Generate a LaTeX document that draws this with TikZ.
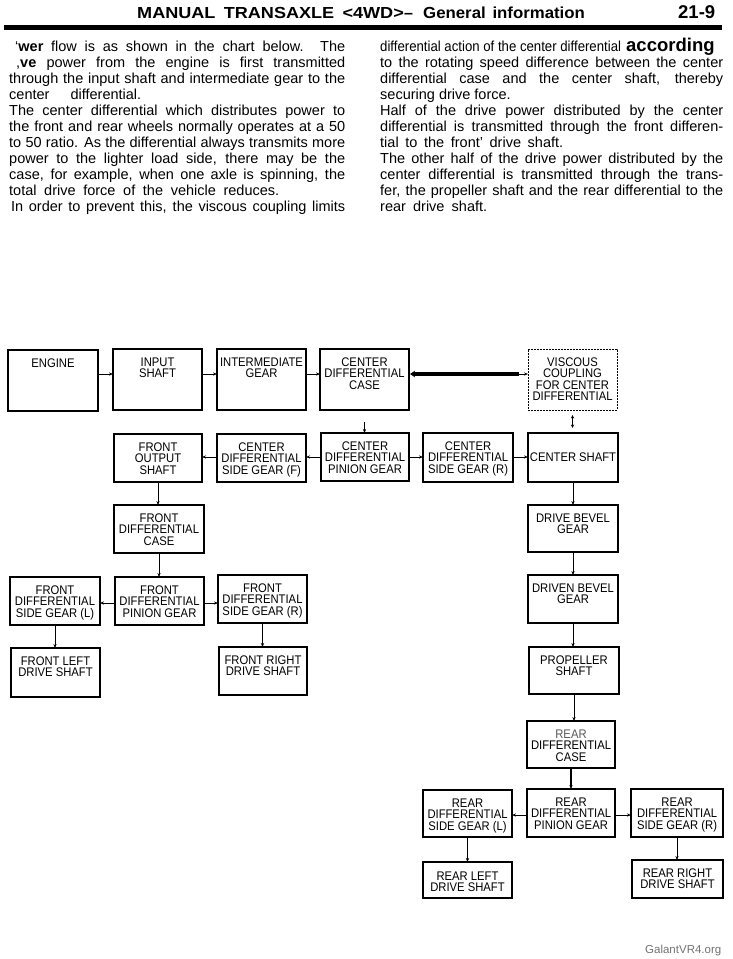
\documentclass[tikz,border=0pt]{standalone}
\usepackage{fontspec}
\setmainfont{Liberation Sans}
\newfontfamily\boxfont[FakeStretch=0.9]{Liberation Sans}
\usetikzlibrary{arrows.meta,calc}
\lineskiplimit=-5pt
\tikzset{
  bx/.style={draw, line width=1.2pt, anchor=north west, inner sep=0pt, outer sep=0pt},
  tx/.style={anchor=north, inner sep=0pt, yshift=-8.5pt, align=center,
     font=\boxfont\fontsize{12.5}{11.5}\selectfont},
  arr/.style={line width=0.8pt, -{Stealth[length=4pt,width=3.2pt]}},
  body/.style={anchor=base west, inner sep=0pt, font=\fontsize{14.5}{16}\selectfont},
  head/.style={anchor=base west, inner sep=0pt, font=\bfseries\fontsize{16}{18}\selectfont},
}
\begin{document}
\begin{tikzpicture}[x=1pt,y=-1pt]
\fill[white] (0,0) rectangle (732,959);
\useasboundingbox (0,0) rectangle (732,959);

% ---------- header ----------
\node[head] (h1) at (137,18) {\scalebox{1.13}[1]{\makebox[236pt][s]{MANUAL TRANSAXLE <4WD>}}};
\node[head] (h2) at (404,18) {–};
\node[head] (h3) at (423,18) {\scalebox{1.05}[1]{\makebox[154pt][s]{General information}}};
\node[head, font=\bfseries\fontsize{18.5}{20}\selectfont] (h4) at (678,18) {21-9};
\node[inner sep=0pt, outer sep=0pt, anchor=north west] (hrule) at (4,25) {\rule{718pt}{5pt}};

% ---------- left column ----------
\node[body] (l1) at (15,51.5) {\makebox[330pt][s]{‘\textbf{wer} flow is as shown in the chart below. The}};
\node[body] (l2) at (16,67.5) {\makebox[329pt][s]{,\textbf{ve} power from the engine is first transmitted}};
\node[body] (l3) at (9,83.5) {\makebox[336pt][s]{through the input shaft and intermediate gear to the}};
\node[body] (l4) at (9,99.5) {\makebox[132pt][s]{center differential.}};
\node[body] (l5) at (9,115.5) {\makebox[336pt][s]{The center differential which distributes power to}};
\node[body] (l6) at (9,131.5) {\makebox[336pt][s]{the front and rear wheels normally operates at a 50}};
\node[body] (l7) at (9,147.5) {\makebox[336pt][s]{to 50 ratio. As the differential always transmits more}};
\node[body] (l8) at (9,163.5) {\makebox[336pt][s]{power to the lighter load side, there may be the}};
\node[body] (l9) at (9,179.5) {\makebox[336pt][s]{case, for example, when one axle is spinning, the}};
\node[body] (l10) at (9,195.5) {\makebox[270pt][s]{total drive force of the vehicle reduces.}};
\node[body] (l11) at (11,211.5) {\makebox[334pt][s]{In order to prevent this, the viscous coupling limits}};

% ---------- right column ----------
\node[body] (r1t) at (380,51) {\scalebox{0.91}[1]{differential action of the center differential}};
\node[body, font=\bfseries\fontsize{18.5}{20}\selectfont] (r1b) at (626,51) {according};
\node[body] (r2t) at (380,67) {\makebox[343pt][s]{to the rotating speed difference between the center}};
\node[body] (r3t) at (380,83) {\makebox[343pt][s]{differential case and the center shaft, thereby}};
\node[body] (r4t) at (380,99) {securing drive force.};
\node[body] (r5t) at (380,115) {\makebox[343pt][s]{Half of the drive power distributed by the center}};
\node[body] (r6t) at (380,131) {\makebox[343pt][s]{differential is transmitted through the front differen-}};
\node[body] (r7t) at (380,147) {\makebox[183pt][s]{tial to the front' drive shaft.}};
\node[body] (r8t) at (380,163) {\makebox[343pt][s]{The other half of the drive power distributed by the}};
\node[body] (r9t) at (380,179) {\makebox[343pt][s]{center differential is transmitted through the trans-}};
\node[body] (r10t) at (380,195) {\makebox[343pt][s]{fer, the propeller shaft and the rear differential to the}};
\node[body] (r11t) at (380,211) {\makebox[107pt][s]{rear drive shaft.}};

% ---------- helper rows ----------
\coordinate (ra) at (0,374);
\coordinate (rb) at (0,457);
\coordinate (rc) at (0,603);
\coordinate (rd) at (0,815);
\coordinate (vj) at (519,374);

% ---------- boxes ----------
\node[bx, minimum width=90pt, minimum height=61pt] (engine) at (8,350) {};
\node[tx] (engine-t) at (engine.north) {ENGINE};
\node[bx, minimum width=89pt, minimum height=61pt] (input) at (113,349) {};
\node[tx] (input-t) at (input.north) {INPUT\\SHAFT};
\node[bx, minimum width=89pt, minimum height=61pt] (inter) at (217,349) {};
\node[tx] (inter-t) at (inter.north) {INTERMEDIATE\\GEAR};
\node[bx, minimum width=89pt, minimum height=61pt] (cdcase) at (320,349) {};
\node[tx] (cdcase-t) at (cdcase.north) {CENTER\\DIFFERENTIAL\\CASE};
\node[bx, minimum width=89pt, minimum height=61pt, dash pattern=on 1.6pt off 1.4pt, line width=0.9pt] (viscous) at (528,349) {};
\node[tx] (viscous-t) at (viscous.north) {VISCOUS\\COUPLING\\FOR CENTER\\DIFFERENTIAL};

\node[bx, minimum width=88pt, minimum height=48pt] (fos) at (114,434) {};
\node[tx] (fos-t) at (fos.north) {FRONT\\OUTPUT\\SHAFT};
\node[bx, minimum width=89pt, minimum height=48pt] (cdsf) at (217,434) {};
\node[tx] (cdsf-t) at (cdsf.north) {CENTER\\DIFFERENTIAL\\SIDE GEAR (F)};
\node[bx, minimum width=88pt, minimum height=48pt] (cdpg) at (321,433) {};
\node[tx] (cdpg-t) at (cdpg.north) {CENTER\\DIFFERENTIAL\\PINION GEAR};
\node[bx, minimum width=90pt, minimum height=49pt] (cdsr) at (423,433) {};
\node[tx] (cdsr-t) at (cdsr.north) {CENTER\\DIFFERENTIAL\\SIDE GEAR (R)};
\node[bx, minimum width=90pt, minimum height=49pt, font=\boxfont\fontsize{12.5}{11.5}\selectfont] (cshaft) at (528,433) {CENTER SHAFT};

\node[bx, minimum width=90pt, minimum height=48pt] (fdcase) at (114,505) {};
\node[tx] (fdcase-t) at (fdcase.north) {FRONT\\DIFFERENTIAL\\CASE};
\node[bx, minimum width=90pt, minimum height=48pt] (fdsl) at (10,577) {};
\node[tx] (fdsl-t) at (fdsl.north) {FRONT\\DIFFERENTIAL\\SIDE GEAR (L)};
\node[bx, minimum width=89pt, minimum height=48pt] (fdpg) at (115,577) {};
\node[tx] (fdpg-t) at (fdpg.north) {FRONT\\DIFFERENTIAL\\PINION GEAR};
\node[bx, minimum width=89pt, minimum height=48pt] (fdsr) at (218,575) {};
\node[tx] (fdsr-t) at (fdsr.north) {FRONT\\DIFFERENTIAL\\SIDE GEAR (R)};
\node[bx, minimum width=89pt, minimum height=49pt] (fld) at (11,648) {};
\node[tx] (fld-t) at (fld.north) {FRONT LEFT\\DRIVE SHAFT};
\node[bx, minimum width=88pt, minimum height=48pt] (frd) at (219,647) {};
\node[tx] (frd-t) at (frd.north) {FRONT RIGHT\\DRIVE SHAFT};

\node[bx, minimum width=90pt, minimum height=47pt] (dbg) at (528,505) {};
\node[tx] (dbg-t) at (dbg.north) {DRIVE BEVEL\\GEAR};
\node[bx, minimum width=90pt, minimum height=48pt] (dnbg) at (528,575) {};
\node[tx] (dnbg-t) at (dnbg.north) {DRIVEN BEVEL\\GEAR};
\node[bx, minimum width=90pt, minimum height=47pt] (prop) at (529,647) {};
\node[tx] (prop-t) at (prop.north) {PROPELLER\\SHAFT};
\node[bx, minimum width=88pt, minimum height=47pt, line width=2.2pt] (rdcase) at (527,721) {};
\node[tx] (rdcase-t) at (rdcase.north) {{\color{black!65}REAR}\\DIFFERENTIAL\\CASE};
\node[bx, minimum width=88pt, minimum height=48pt] (rdpg) at (527,789) {};
\node[tx] (rdpg-t) at (rdpg.north) {REAR\\DIFFERENTIAL\\PINION GEAR};
\node[bx, minimum width=89pt, minimum height=47pt] (rdsl) at (423,790) {};
\node[tx] (rdsl-t) at (rdsl.north) {REAR\\DIFFERENTIAL\\SIDE GEAR (L)};
\node[bx, minimum width=92pt, minimum height=48pt] (rdsr) at (631,789) {};
\node[tx] (rdsr-t) at (rdsr.north) {REAR\\DIFFERENTIAL\\SIDE GEAR (R)};
\node[bx, minimum width=89pt, minimum height=36pt] (rld) at (423,862) {};
\node[tx, yshift=-1pt] (rld-t) at (rld.north) {REAR LEFT\\DRIVE SHAFT};
\node[bx, minimum width=91pt, minimum height=38pt] (rrd) at (632,860) {};
\node[tx] (rrd-t) at (rrd.north) {REAR RIGHT\\DRIVE SHAFT};

% ---------- connectors ----------
\draw[arr] (engine.east |- ra) -- (input.west |- ra);
\draw[arr] (input.east |- ra) -- (inter.west |- ra);
\draw[arr] (inter.east |- ra) -- (cdcase.west |- ra);
\draw[line width=3.4pt, {Stealth[length=5pt,width=6.5pt]}-] ([xshift=1pt]cdcase.east |- ra) -- (vj);
\draw[arr] (vj) -- (viscous.west |- ra);
\draw[arr, shorten <=12pt] (cdcase.south) -- (cdcase.south |- cdpg.north);
\draw[line width=0.8pt, {Stealth[length=3.5pt,width=3.2pt]}-{Stealth[length=3.5pt,width=3.2pt]},
      shorten <=5pt, shorten >=5pt] (viscous.south) -- (viscous.south |- cshaft.north);

\draw[arr] (cdpg.west |- rb) -- (cdsf.east |- rb);
\draw[arr] (cdsf.west |- rb) -- (fos.east |- rb);
\draw[arr] (cdpg.east |- rb) -- (cdsr.west |- rb);
\draw[arr] (cdsr.east |- rb) -- (cshaft.west |- rb);

\draw[arr] (fos.south) -- (fos.south |- fdcase.north);
\draw[arr] (fdcase.south) -- (fdcase.south |- fdpg.north);
\draw[arr] (fdpg.west |- rc) -- (fdsl.east |- rc);
\draw[arr] (fdpg.east |- rc) -- (fdsr.west |- rc);
\draw[arr] (fdsl.south) -- (fdsl.south |- fld.north);
\draw[arr] (fdsr.south) -- (fdsr.south |- frd.north);

\draw[arr] (cshaft.south) -- (cshaft.south |- dbg.north);
\draw[arr] (dbg.south) -- (dbg.south |- dnbg.north);
\draw[arr] (dnbg.south) -- (dnbg.south |- prop.north);
\draw[arr] (prop.south) -- (prop.south |- rdcase.north);
\draw[arr, line width=1.1pt] (rdcase.south) -- (rdcase.south |- rdpg.north);
\draw[arr] (rdpg.west |- rd) -- (rdsl.east |- rd);
\draw[arr] (rdpg.east |- rd) -- (rdsr.west |- rd);
\draw[arr] (rdsl.south) -- (rdsl.south |- rld.north);
\draw[arr] (rdsr.south) -- (rdsr.south |- rrd.north);

% ---------- watermark ----------
\node[anchor=base west, inner sep=0pt, text=black!55, font=\fontsize{11.5}{13}\selectfont] (wm) at (645,953) {GalantVR4.org};

% ---------- header rule ----------
\fill[black] (4,25) rectangle (722,30);
\end{tikzpicture}
\end{document}
